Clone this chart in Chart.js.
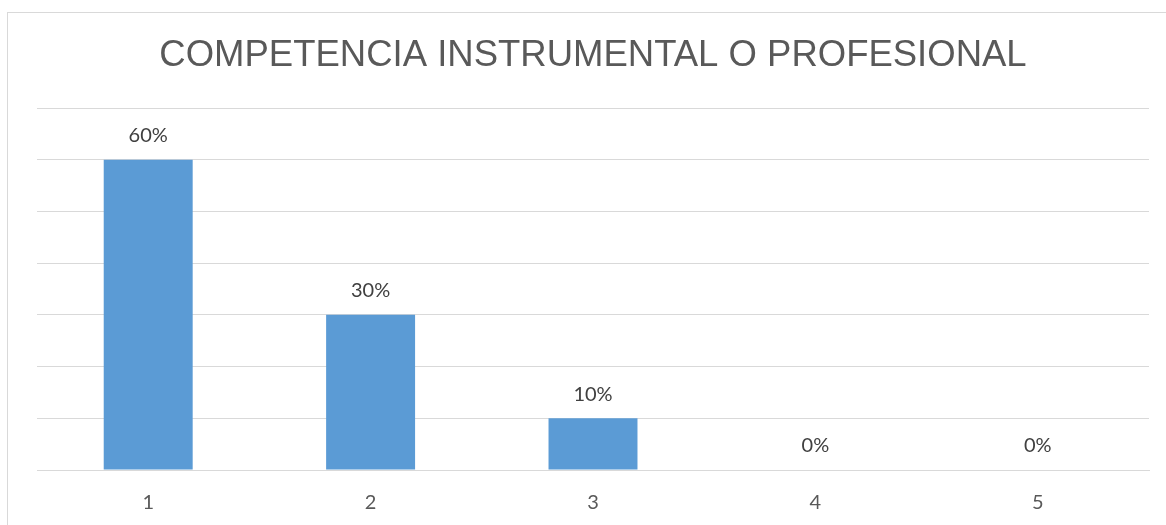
<!DOCTYPE html>
<html>
<head>
<meta charset="utf-8">
<script src="https://cdn.jsdelivr.net/npm/chart.js@4.4.1/dist/chart.umd.min.js"></script>
<style>
  html, body { margin: 0; padding: 0; background: #fff; }
  #wrap { position: relative; width: 1166px; height: 525px; overflow: hidden; }
  #frame {
    position: absolute; left: 7px; top: 12px; width: 1200px; height: 600px;
    border-left: 1px solid #d9d9d9; border-top: 1px solid #d9d9d9;
  }
  #chart { position: absolute; left: 0; top: 0; }
</style>
</head>
<body>
<div id="wrap">
  <div id="frame"></div>
  <canvas id="chart" width="1166" height="525"></canvas>
</div>
<script>
(() => {
  "use strict";

  const categories = ["1", "2", "3", "4", "5"];
  const percentValues = [60, 30, 10, 0, 0];
  const axisMax = 70;
  const axisStep = 10;

  const GRID = "#d9d9d9";
  const BAR = "#5b9bd5";

  // value labels above each bar (no datalabels plugin available)
  const valueLabels = {
    id: "valueLabels",
    afterDatasetsDraw(chart) {
      const { ctx } = chart;
      const meta = chart.getDatasetMeta(0);
      ctx.save();
      ctx.font = "20px Lato, 'Open Sans', sans-serif";
      ctx.fillStyle = "#404040";
      ctx.textAlign = "center";
      ctx.textBaseline = "middle";
      meta.data.forEach((bar, i) => {
        ctx.fillText(`${percentValues[i]}%`, bar.x, bar.y - 24);
      });
      ctx.restore();
    },
  };

  new Chart(document.getElementById("chart"), {
    type: "bar",
    data: {
      labels: categories,
      datasets: [{
        data: percentValues,
        backgroundColor: BAR,
        borderWidth: 0,
        categoryPercentage: 1,
        barPercentage: 0.4,
      }],
    },
    options: {
      responsive: false,
      animation: false,
      devicePixelRatio: 1,
      layout: { padding: { left: 37, right: 17, top: 0, bottom: 0 } },
      plugins: {
        legend: { display: false },
        tooltip: { enabled: false },
        title: {
          display: true,
          text: "COMPETENCIA INSTRUMENTAL O PROFESIONAL",
          color: "#595959",
          font: { family: "'Liberation Sans', Arial, sans-serif", size: 36.5, weight: "normal", lineHeight: 1.2 },
          padding: { top: 34, bottom: 30.2 },
        },
      },
      scales: {
        x: {
          grid: { display: false, drawTicks: false },
          border: { display: true, color: GRID, width: 1 },
          ticks: {
            color: "#595959",
            font: { family: "Lato, 'Open Sans', sans-serif", size: 20, lineHeight: 1.2 },
            padding: 21,
          },
          afterFit: (scale) => { scale.height = 55; },
        },
        y: {
          min: 0,
          max: axisMax,
          ticks: { display: false, stepSize: axisStep },
          grid: { color: GRID, lineWidth: 1, drawTicks: false },
          border: { display: false },
          afterFit: (scale) => { scale.width = 0; },
        },
      },
    },
    plugins: [valueLabels],
  });
})();
</script>
</body>
</html>
